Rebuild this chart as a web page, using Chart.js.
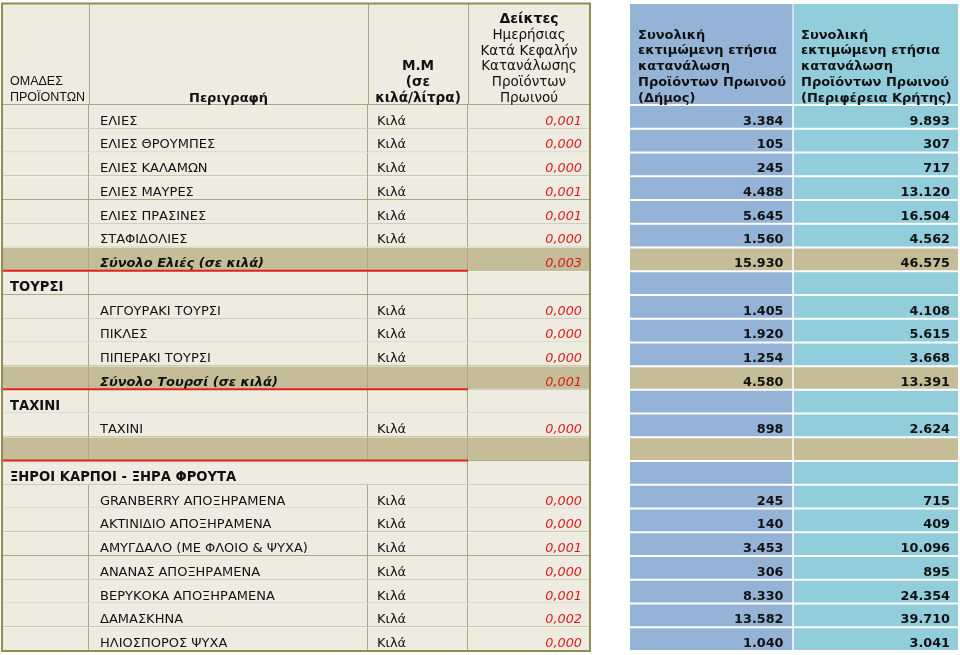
<!DOCTYPE html>
<html lang="el">
<head>
<meta charset="utf-8">
<script src="https://cdn.jsdelivr.net/npm/chart.js@4.4.1/dist/chart.umd.min.js"></script>
<style>
html,body{margin:0;padding:0;background:#ffffff;}
#wrap{width:960px;height:655px;position:relative;}
</style>
</head>
<body>
<div id="wrap"><canvas id="c"></canvas></div>
<script>
// ---------------- DATA ----------------
const headerGroups = ['ΟΜΑΔΕΣ', 'ΠΡΟΪΟΝΤΩΝ'];
const headerDescription = ['Περιγραφή'];
const headerUnit = ['Μ.Μ', '(σε', 'κιλά/λίτρα)'];
const headerIndex = ['Δείκτες', 'Ημερήσιας', 'Κατά Κεφαλήν', 'Κατανάλωσης', 'Προϊόντων', 'Πρωινού'];
const headerMunicipality = ['Συνολική', 'εκτιμώμενη ετήσια', 'κατανάλωση', 'Προϊόντων Πρωινού', '(Δήμος)'];
const headerRegion = ['Συνολική', 'εκτιμώμενη ετήσια', 'κατανάλωση', 'Προϊόντων Πρωινού', '(Περιφέρεια Κρήτης)'];

const rowKinds = ['item','item','item','item','item','item','total',
  'group','item','item','item','total',
  'group','item','total',
  'wide','item','item','item','item','item','item','item'];

const groupLabels = ['','','','','','','',
  'ΤΟΥΡΣΙ','','','','',
  'ΤΑΧΙΝΙ','','',
  'ΞΗΡΟΙ ΚΑΡΠΟΙ - ΞΗΡΑ ΦΡΟΥΤΑ','','','','','','',''];

const descriptions = ['ΕΛΙΕΣ','ΕΛΙΕΣ ΘΡΟΥΜΠΕΣ','ΕΛΙΕΣ ΚΑΛΑΜΩΝ','ΕΛΙΕΣ ΜΑΥΡΕΣ','ΕΛΙΕΣ ΠΡΑΣΙΝΕΣ','ΣΤΑΦΙΔΟΛΙΕΣ','Σύνολο Ελιές (σε κιλά)',
  '','ΑΓΓΟΥΡΑΚΙ ΤΟΥΡΣΙ','ΠΙΚΛΕΣ','ΠΙΠΕΡΑΚΙ ΤΟΥΡΣΙ','Σύνολο Τουρσί (σε κιλά)',
  '','ΤΑΧΙΝΙ','',
  '','GRANBERRY ΑΠΟΞΗΡΑΜΕΝΑ','ΑΚΤΙΝΙΔΙΟ ΑΠΟΞΗΡΑΜΕΝΑ','ΑΜΥΓΔΑΛΟ (ΜΕ ΦΛΟΙΟ & ΨΥΧΑ)','ΑΝΑΝΑΣ ΑΠΟΞΗΡΑΜΕΝΑ','ΒΕΡΥΚΟΚΑ ΑΠΟΞΗΡΑΜΕΝΑ','ΔΑΜΑΣΚΗΝΑ','ΗΛΙΟΣΠΟΡΟΣ ΨΥΧΑ'];

const units = ['Κιλά','Κιλά','Κιλά','Κιλά','Κιλά','Κιλά','',
  '','Κιλά','Κιλά','Κιλά','',
  '','Κιλά','',
  '','Κιλά','Κιλά','Κιλά','Κιλά','Κιλά','Κιλά','Κιλά'];

const dailyIndex = [0.001,0.000,0.000,0.001,0.001,0.000,0.003,
  null,0.000,0.000,0.000,0.001,
  null,0.000,null,
  null,0.000,0.000,0.001,0.000,0.001,0.002,0.000];

const municipality = [3384,105,245,4488,5645,1560,15930,
  null,1405,1920,1254,4580,
  null,898,null,
  null,245,140,3453,306,8330,13582,1040];

const region = [9893,307,717,13120,16504,4562,46575,
  null,4108,5615,3668,13391,
  null,2624,null,
  null,715,409,10096,895,24354,39710,3041];

// ---------------- LAYOUT / STYLE ----------------
const COL_EDGES = [[2,89],[89,368],[368,468],[468,590],[630,792.5],[793.5,958]];
const C = {
  beige:'#EEECE1', tan:'#C4BD97', grid:'#ABA683', border:'#948A54',
  blue:'#95B3D7', teal:'#92CDDC', red:'#E3201B', redText:'#DA1B1B', text:'#111111'
};
const FONT = '"DejaVu Sans", Verdana, sans-serif';

function fmtInt(v){ return String(v).replace(/\B(?=(\d{3})+(?!\d))/g, '.'); }
function fmtIdx(v){ return v.toFixed(3).replace('.', ','); }

function cellRange(col, i){
  const k = rowKinds[i];
  if (k === 'wide'){
    if (col === 0) return [COL_EDGES[0][0], COL_EDGES[2][1]];
    if (col === 1 || col === 2) return null;
  }
  return COL_EDGES[col].slice();
}
function cellColor(col, i){
  const k = rowKinds[i];
  if (k === 'total') return C.tan;
  if (col === 4) return C.blue;
  if (col === 5) return C.teal;
  return C.beige;
}

const datasets = [0,1,2,3,4,5].map(col => ({
  label: 'col' + col,
  data: rowKinds.map((_, i) => cellRange(col, i)),
  backgroundColor: rowKinds.map((_, i) => cellColor(col, i)),
  borderColor: col < 4 ? C.grid : '#ffffff',
  borderWidth: col < 4 ? {top:0,left:0,right:1,bottom:1} : {top:1,left:0,right:0,bottom:1},
  borderSkipped: false,
  grouped: false,
  categoryPercentage: 1,
  barPercentage: 1,
  inflateAmount: 0
}));

function cellText(col, i){
  const k = rowKinds[i];
  switch(col){
    case 0: return groupLabels[i] ? {t:groupLabels[i], f:'bold 13.2px '+FONT, a:'left', c:C.text} : null;
    case 1: return descriptions[i] ? {t:descriptions[i], f:(k==='total'?'italic bold 13px ':'13px ')+FONT, a:'left', c:C.text} : null;
    case 2: return units[i] ? {t:units[i], f:'13px '+FONT, a:'left', c:C.text} : null;
    case 3: return dailyIndex[i] !== null ? {t:fmtIdx(dailyIndex[i]), f:'italic 12.8px '+FONT, a:'right', c:C.redText} : null;
    case 4: return municipality[i] !== null ? {t:fmtInt(municipality[i]), f:'bold 12.8px '+FONT, a:'right', c:C.text} : null;
    case 5: return region[i] !== null ? {t:fmtInt(region[i]), f:'bold 12.8px '+FONT, a:'right', c:C.text} : null;
  }
  return null;
}
const PAD_LEFT = [8, 11, 9];
const PAD_RIGHT = {3:8, 4:9, 5:8};

function drawLines(ctx, lines, x, lastCenter, step, align, font, color){
  ctx.font = font; ctx.fillStyle = color; ctx.textAlign = align; ctx.textBaseline = 'middle';
  const n = lines.length;
  lines.forEach((ln, k) => ctx.fillText(ln, x, lastCenter - (n-1-k)*step));
}

const tablePlugin = {
  id: 'tableDraw',
  beforeDatasetsDraw(chart){
    const ctx = chart.ctx, xs = chart.scales.x, px = v => xs.getPixelForValue(v);
    const bottom = chart.chartArea.top;
    ctx.save();
    // left header
    ctx.fillStyle = C.beige;
    ctx.fillRect(px(2), 3, px(590)-px(2), bottom-3);
    ctx.strokeStyle = C.grid; ctx.lineWidth = 1;
    [89,368,468].forEach(v => { ctx.beginPath(); ctx.moveTo(Math.round(px(v))+0.5, 3); ctx.lineTo(Math.round(px(v))+0.5, bottom); ctx.stroke(); });
    ctx.beginPath(); ctx.moveTo(px(2), bottom-0.5); ctx.lineTo(px(590), bottom-0.5); ctx.stroke();
    // right header
    ctx.fillStyle = C.blue; ctx.fillRect(px(630), 4, px(792.5)-px(630), bottom-5);
    ctx.fillStyle = C.teal; ctx.fillRect(px(793.5), 4, px(958)-px(793.5), bottom-5);
    const last = bottom - 6.5, step = 15.8;
    drawLines(ctx, headerGroups, px(10), last-1, 16, 'left', '12.5px "Liberation Sans", Arial, sans-serif', C.text);
    drawLines(ctx, headerDescription, (px(89)+px(368))/2, last, step, 'center', 'bold 13px '+FONT, C.text);
    drawLines(ctx, headerUnit, (px(368)+px(468))/2, last, step, 'center', 'bold 13.6px '+FONT, C.text);
    drawLines(ctx, headerIndex.slice(0,1), (px(468)+px(590))/2, last-5*step, step, 'center', 'bold 14px '+FONT, C.text);
    drawLines(ctx, headerIndex.slice(1), (px(468)+px(590))/2, last, step, 'center', '13.5px '+FONT, C.text);
    drawLines(ctx, headerMunicipality, px(638), last, step, 'left', 'bold 13px '+FONT, C.text);
    drawLines(ctx, headerRegion, px(801), last, step, 'left', 'bold 13px '+FONT, C.text);
    ctx.restore();
  },
  afterDatasetsDraw(chart){
    const ctx = chart.ctx, xs = chart.scales.x, px = v => xs.getPixelForValue(v);
    ctx.save();
    chart.data.datasets.forEach((ds, col) => {
      const meta = chart.getDatasetMeta(col);
      meta.data.forEach((el, i) => {
        if (!ds.data[i]) return;
        const p = el.getProps(['x','y','base','height'], true);
        const left = Math.min(p.x, p.base), right = Math.max(p.x, p.base);
        const bot = p.y + p.height/2;
        const ct = cellText(col, i);
        if (!ct) return;
        ctx.font = ct.f; ctx.fillStyle = ct.c; ctx.textAlign = ct.a; ctx.textBaseline = 'alphabetic';
        const tx = ct.a === 'left' ? left + PAD_LEFT[col] : right - PAD_RIGHT[col];
        ctx.fillText(ct.t, tx, bot - 4);
      });
    });
    // red lines under totals
    const m0 = chart.getDatasetMeta(3);
    ctx.strokeStyle = C.red; ctx.lineWidth = 2;
    rowKinds.forEach((k, i) => {
      if (k !== 'total') return;
      const el = m0.data[i];
      const y = el.y + el.height/2 - 0.5;
      ctx.beginPath(); ctx.moveTo(px(2), y); ctx.lineTo(px(468), y); ctx.stroke();
    });
    // outer border of the left table
    ctx.strokeStyle = C.border; ctx.lineWidth = 2;
    ctx.strokeRect(px(2), 3.5, px(590)-px(2), chart.chartArea.bottom - 3.5);
    ctx.restore();
  }
};

new Chart(document.getElementById('c'), {
  type: 'bar',
  data: { labels: rowKinds.map((_, i) => descriptions[i] || groupLabels[i] || ('row' + i)), datasets },
  options: {
    indexAxis: 'y',
    responsive: true,
    maintainAspectRatio: false,
    animation: false,
    layout: { padding: { top: 105, bottom: 4, left: 0, right: 0 } },
    scales: {
      x: { type: 'linear', min: 0, max: 960, display: false },
      y: { display: false, offset: true }
    },
    plugins: { legend: { display: false }, tooltip: { enabled: false } }
  },
  plugins: [tablePlugin]
});
</script>
</body>
</html>
